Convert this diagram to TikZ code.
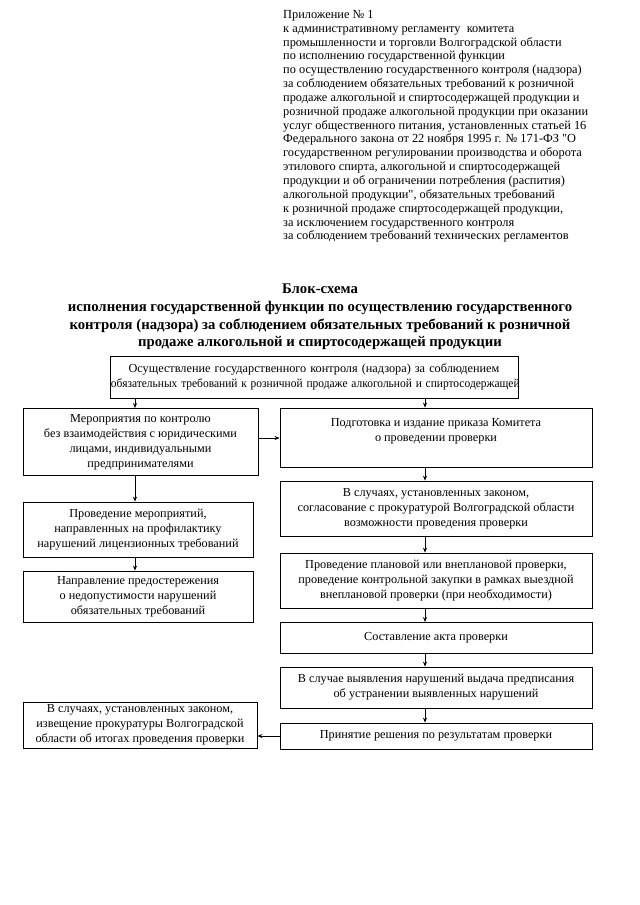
\documentclass[tikz,border=0pt]{standalone}
\usepackage{fontspec}
\setmainfont{Liberation Serif}[Ligatures=TeXOff]
\usetikzlibrary{arrows.meta}
\newcommand\hdrfont{\fontsize{12.4}{13.9}\selectfont}
\newcommand\ttlfont{\fontsize{14.8}{17.7}\selectfont\bfseries}
\newcommand\bxfont{\fontsize{12.3}{15}\selectfont}
\tikzset{
  blk/.style={draw, line width=0.8bp, inner sep=0pt, align=center, font=\bxfont},
  arr/.style={line width=0.8bp, -{Stealth[length=5bp,width=4bp]}}
}
\begin{document}
\begin{tikzpicture}[x=1bp,y=-1bp]
\useasboundingbox[fill=white] (0,0) rectangle (640,905);
\node[anchor=north west, inner sep=0pt, align=left, font=\hdrfont] (hdr) at (283,10) {Приложение № 1\\
к административному регламенту\ \ комитета\\
промышленности и торговли Волгоградской области\\
по исполнению государственной функции\\
по осуществлению государственного контроля (надзора)\\
за соблюдением обязательных требований к розничной\\
продаже алкогольной и спиртосодержащей продукции и\\
розничной продаже алкогольной продукции при оказании\\
услуг общественного питания, установленных статьей 16\\
Федерального закона от 22 ноября 1995 г. № 171-ФЗ "О\\
государственном регулировании производства и оборота\\
этилового спирта, алкогольной и спиртосодержащей\\
продукции и об ограничении потребления (распития)\\
алкогольной продукции", обязательных требований\\
к розничной продаже спиртосодержащей продукции,\\
за исключением государственного контроля\\
за соблюдением требований технических регламентов};
\node[anchor=north, inner sep=0pt, align=center, font=\ttlfont] (ttl) at (320,284) {Блок-схема\\
исполнения государственной функции по осуществлению государственного\\
контроля (надзора) за соблюдением обязательных требований к розничной\\
продаже алкогольной и спиртосодержащей продукции};
\node[blk, minimum width=408bp, minimum height=42bp, text width=406bp] (top) at (314,377) {Осуществление государственного контроля (надзора) за соблюдением\\ \scalebox{0.935}[1]{обязательных требований к розничной продаже алкогольной и спиртосодержащей}};
\node[blk, minimum width=235bp, minimum height=67bp] (L1) at (140.5,442) {Мероприятия по контролю\\ без взаимодействия с юридическими\\ лицами, индивидуальными\\ предпринимателями};
\node[blk, minimum width=230bp, minimum height=55bp] (L2) at (138,529.5) {Проведение мероприятий,\\ направленных на профилактику\\ нарушений лицензионных требований};
\node[blk, minimum width=230bp, minimum height=51bp] (L3) at (138,596.5) {Направление предостережения\\ о недопустимости нарушений\\ обязательных требований};
\node[blk, minimum width=312bp, minimum height=59bp] (R1) at (436,437.5) {Подготовка и издание приказа Комитета\\ о проведении проверки\\ \mbox{}};
\node[blk, minimum width=312bp, minimum height=55bp] (R2) at (436,508.5) {В случаях, установленных законом,\\ согласование с прокуратурой Волгоградской области\\ возможности проведения проверки};
\node[blk, minimum width=312bp, minimum height=55bp] (R3) at (436,580.5) {Проведение плановой или внеплановой проверки,\\ проведение контрольной закупки в рамках выездной\\ внеплановой проверки (при необходимости)};
\node[blk, minimum width=312bp, minimum height=31bp] (R4) at (436,638) {Составление акта проверки};
\node[blk, minimum width=312bp, minimum height=41bp] (R5) at (436,687.5) {В случае выявления нарушений выдача предписания\\ об устранении выявленных нарушений};
\node[blk, minimum width=312bp, minimum height=26bp] (R6) at (436,736) {Принятие решения по результатам проверки};
\node[blk, minimum width=234bp, minimum height=46bp] (LB) at (140,725) {В случаях, установленных законом,\\ извещение прокуратуры Волгоградской\\ области об итогах проведения проверки};
\coordinate (lx) at (135,0);
\coordinate (rx) at (425,0);
\coordinate (hy) at (0,438);
\draw[arr] (top.south -| lx) -- (L1.north -| lx);
\draw[arr] (top.south -| rx) -- (R1.north -| rx);
\draw[arr] (L1.south -| lx) -- (L2.north -| lx);
\draw[arr] (L2.south -| lx) -- (L3.north -| lx);
\draw[arr] (L1.east |- hy) -- (R1.west |- hy);
\draw[arr] (R1.south -| rx) -- (R2.north -| rx);
\draw[arr] (R2.south -| rx) -- (R3.north -| rx);
\draw[arr] (R3.south -| rx) -- (R4.north -| rx);
\draw[arr] (R4.south -| rx) -- (R5.north -| rx);
\draw[arr] (R5.south -| rx) -- (R6.north -| rx);
\draw[arr] (R6.west) -- (R6.west -| LB.east);
\end{tikzpicture}
\end{document}
